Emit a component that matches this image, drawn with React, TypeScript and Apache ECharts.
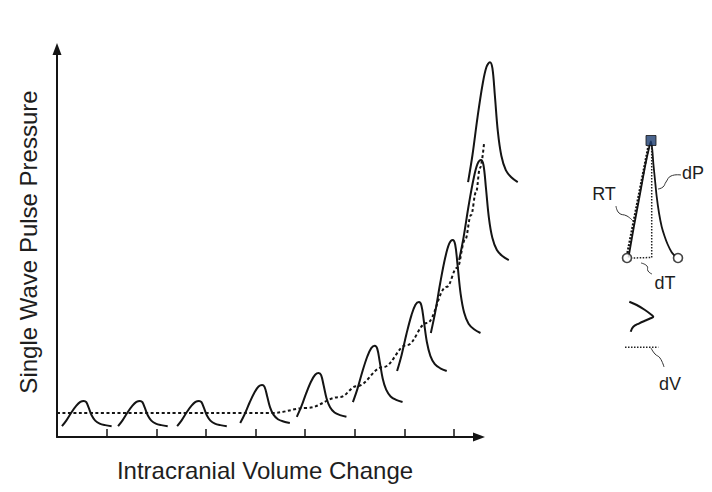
import React, { useEffect, useRef } from "react";
import * as echarts from "echarts";

// Single pulse waves riding on the pressure–volume curve
const pulseStart = [0.1, 1.23, 2.42, 3.69, 4.83, 5.96, 6.85, 7.53, 8.1, 8.28];
const pulseBase = [2.8, 2.8, 2.8, 3.6, 5.2, 9.0, 17.0, 26.8, 45.6, 65.7];
const pulsePeak = [9.3, 9.3, 9.3, 13.4, 16.5, 23.5, 34.8, 50.8, 71.4, 96.6];
const pulseWidth = 1.0;

// Outline of one pulse: fraction of its width, fraction of its height
const shapeU = [0, 0.09, 0.19, 0.29, 0.37, 0.44, 0.49, 0.54, 0.6, 0.67, 0.76, 0.87, 1.0];
const shapeV = [0, 0.23, 0.54, 0.81, 0.96, 1.0, 0.95, 0.72, 0.42, 0.22, 0.1, 0.04, 0];

// Mean pressure curve (dotted)
const curveVolume = [0, 2.0, 4.33, 5.04, 5.7, 6.04, 6.57, 7.05, 7.45, 7.85, 8.06, 8.22, 8.34, 8.44, 8.52, 8.6];
const curvePressure = [6.2, 6.2, 6.2, 7.5, 10.3, 13.1, 18.0, 23.7, 29.4, 38.7, 43.6, 50.8, 57.2, 63.1, 69.3, 75.5];

const volumeTicks = [1, 2, 3, 4, 5, 6, 7, 8];
const volumeAxisMax = 8.5;
const volumeRoomMax = 10; // waves past the arrow still belong to the same scale
const pressureMax = 100;

// Key diagram (its own small grid)
const keyPulse = [
  [28.5, 127.5], [34, 96], [40, 64], [45.5, 34], [49.5, 16], [51, 11.5],
  [52.3, 20], [53.3, 33], [55, 50], [56.7, 66.7], [59, 83], [61.7, 96.7],
  [64.5, 106], [67.5, 114], [71.5, 122], [75, 126],
];
const keyPeak = [[51, 10.5]];
const keyFeet = [[27, 128], [78, 128]];
const keyRiseTime = [[27.5, 123], [48.5, 16]];
const keyDrop = [[51.7, 15], [51.7, 127.5], [32, 128]];
const keyVolumeWave = [
  [29.3, 171.7], [36.7, 175], [45, 180], [51.7, 185], [53.3, 186.7], [50, 188.5],
  [46.7, 190], [39.3, 193.3], [33.3, 196.7], [30.7, 201.7],
];
const keyVolumeStep = [[25, 217.3], [58.3, 217.3]];

const ink = "#141414";
const textInk = "#1e1e1e";
const font = '"Liberation Sans", Arial, sans-serif';

const plotLeft = 57;
const plotTop = 49;
const plotBottom = 55;
const plotWidth = 422;

function pulseSeries(i: number) {
  const amp = pulsePeak[i] - pulseBase[i];
  const data = shapeU.map((u, k) => [pulseStart[i] + u * pulseWidth, pulseBase[i] + shapeV[k] * amp]);
  return {
    type: "line",
    xAxisIndex: 1,
    yAxisIndex: 1,
    data,
    smooth: 0.35,
    symbol: "none",
    clip: false,
    silent: true,
    lineStyle: { color: ink, width: 2 },
    z: 3,
  };
}

function keyLine(data: number[][], lineStyle: any, smooth: number | boolean = false) {
  return {
    type: "line",
    xAxisIndex: 2,
    yAxisIndex: 2,
    data,
    smooth,
    symbol: "none",
    clip: false,
    silent: true,
    lineStyle,
    z: 3,
  };
}

function leader(points: number[][]) {
  return {
    type: "polyline",
    shape: { points, smooth: 0.5 },
    style: { stroke: "#333", lineWidth: 1, fill: null },
    silent: true,
  };
}

function label(text: string, x: number, y: number, size: number, rotation = 0) {
  return {
    type: "text",
    x,
    y,
    rotation,
    style: {
      text,
      fontSize: size,
      fontFamily: font,
      fill: textInk,
      align: "center",
      verticalAlign: "middle",
    },
    silent: true,
  };
}

export default function App() {
  const ref = useRef<HTMLDivElement>(null);

  useEffect(() => {
    const chart = echarts.init(ref.current!, null, { renderer: "svg" });

    const option: any = {
      animation: false,
      backgroundColor: "#ffffff",
      grid: [
        // visible axes
        { left: plotLeft, top: plotTop, width: plotWidth, bottom: plotBottom },
        // same scale, wider room so the last waves are not cut at the arrow
        {
          left: plotLeft,
          top: plotTop,
          width: (plotWidth / volumeAxisMax) * volumeRoomMax,
          bottom: plotBottom,
        },
        // key diagram
        { left: 600, top: 130, width: 100, height: 260 },
      ],
      xAxis: [
        {
          type: "value",
          gridIndex: 0,
          min: 0,
          max: volumeAxisMax,
          axisLine: {
            show: true,
            onZero: false,
            symbol: ["none", "triangle"],
            symbolSize: [9, 12],
            lineStyle: { color: ink, width: 2 },
          },
          axisTick: {
            show: true,
            inside: true,
            length: 8,
            customValues: volumeTicks,
            lineStyle: { color: ink, width: 1.5 },
          },
          axisLabel: { show: false },
          splitLine: { show: false },
        },
        { type: "value", gridIndex: 1, min: 0, max: volumeRoomMax, show: false },
        { type: "value", gridIndex: 2, min: 0, max: 100, show: false },
      ],
      yAxis: [
        {
          type: "value",
          gridIndex: 0,
          min: 0,
          max: pressureMax,
          axisLine: {
            show: true,
            onZero: false,
            symbol: ["none", "triangle"],
            symbolSize: [9, 12],
            lineStyle: { color: ink, width: 2 },
          },
          axisTick: { show: false },
          axisLabel: { show: false },
          splitLine: { show: false },
        },
        { type: "value", gridIndex: 1, min: 0, max: pressureMax, show: false },
        { type: "value", gridIndex: 2, min: 0, max: 260, inverse: true, show: false },
      ],
      series: [
        ...pulseStart.map((_, i) => pulseSeries(i)),
        {
          type: "line",
          xAxisIndex: 1,
          yAxisIndex: 1,
          data: curveVolume.map((v, i) => [v, curvePressure[i]]),
          smooth: 0.4,
          smoothMonotone: "x",
          symbol: "none",
          clip: false,
          silent: true,
          lineStyle: { color: ink, width: 2, type: [3, 2.5] },
          z: 4,
        },
        keyLine(keyPulse, { color: ink, width: 1.8 }, 0.25),
        keyLine(keyRiseTime, { color: ink, width: 2.4, type: [2, 1.5] }),
        keyLine(keyDrop, { color: "#222", width: 1.5, type: [1.5, 1.5] }),
        keyLine(keyVolumeWave, { color: ink, width: 2 }, 0.4),
        keyLine(keyVolumeStep, { color: "#222", width: 1.5, type: [1.5, 1.5] }),
        {
          type: "scatter",
          xAxisIndex: 2,
          yAxisIndex: 2,
          data: keyFeet,
          symbol: "circle",
          symbolSize: 9,
          silent: true,
          itemStyle: { color: "#ffffff", borderColor: ink, borderWidth: 1.6 },
          z: 5,
        },
        {
          type: "scatter",
          xAxisIndex: 2,
          yAxisIndex: 2,
          data: keyPeak,
          symbol: "rect",
          symbolSize: 10,
          silent: true,
          itemStyle: { color: "#1d3d70", borderColor: ink, borderWidth: 1 },
          z: 6,
        },
      ],
      graphic: [
        label("Single Wave Pulse Pressure", 28, 242, 24, Math.PI / 2),
        label("Intracranial Volume Change", 265, 470, 24),
        label("RT", 604, 194, 18),
        label("dP", 693, 173, 18),
        label("dT", 665, 283, 18),
        label("dV", 670, 384, 18),
        leader([[616, 206], [619, 213], [627, 216], [633, 221]]),
        leader([[681, 175], [671, 176], [666, 182], [663, 187], [658, 189]]),
        leader([[641, 263], [647, 266], [648, 271], [652, 274]]),
        leader([[651, 348], [655, 354], [660, 358], [664, 367]]),
      ],
    };

    chart.setOption(option);
    return () => chart.dispose();
  }, []);

  return (
    <div
      ref={ref}
      style={{ position: "fixed", left: 0, top: 0, width: 712, height: 492, background: "#fff" }}
    />
  );
}
